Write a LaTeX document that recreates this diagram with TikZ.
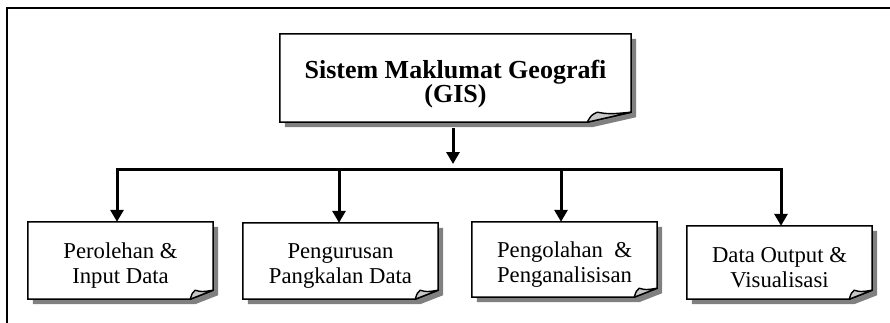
\documentclass[tikz,border=0pt]{standalone}
\usepackage{fontspec}
\setmainfont{Liberation Serif}
\usetikzlibrary{arrows.meta,backgrounds}
\definecolor{shadowgray}{HTML}{808080}
\definecolor{flapgray}{HTML}{C8C8C8}
\newcommand\lowstrut[1]{\rule{0pt}{#1}}
\newcommand\tightlines{\setlength{\lineskiplimit}{-20pt}}
\tikzset{
  boxline/.style={line width=1.5pt, line join=miter},
  lbl/.style={draw=none, inner sep=0pt, align=center, font={\fontsize{22.7}{25}\selectfont\tightlines}},
  toplbl/.style={draw=none, inner sep=0pt, align=center, font={\bfseries\fontsize{26}{24}\selectfont\tightlines}},
  arr/.style={line width=3pt, -{Triangle[width=13pt,length=12pt]}},
  arrboth/.style={line width=3pt, line join=miter, {Triangle[width=13pt,length=12pt]}-{Triangle[width=13pt,length=12pt]}},
}
\newcommand\foldbox[4]{% name, fold dx, fold dy, flap inset
  \fill[shadowgray] ([shift={(5,5)}]#1.north west) -- ([shift={(5,5)}]#1.north east)
     -- ([shift={(5,5-#3)}]#1.south east) -- ([shift={(5-#2,5)}]#1.south east)
     -- ([shift={(5,5)}]#1.south west) -- cycle;
  \filldraw[fill=white, boxline] (#1.north west) -- (#1.north east)
     -- ([shift={(0,-#3)}]#1.south east) -- ([shift={(-#2,0)}]#1.south east)
     -- (#1.south west) -- cycle;
  \filldraw[fill=flapgray, line width=1.4pt, line join=round]
     ([shift={(-#2,0)}]#1.south east)
     .. controls ([shift={(-#2+#4*0.4,-#3*0.7)}]#1.south east) .. ([shift={(-#2+#4,-#3)}]#1.south east)
     .. controls ([shift={(-#2*0.5,-#3*0.8)}]#1.south east) .. ([shift={(0,-#3)}]#1.south east)
     -- cycle;
}
\begin{document}
\begin{tikzpicture}[x=1pt,y=-1pt]
  \useasboundingbox (0,0) rectangle (890,322);
  \clip (0,0) rectangle (890,322);
  \draw[line width=1.6pt] (7,340) -- (7,8) -- (900,8);

  \node[toplbl, minimum width=351pt, minimum height=88pt] (top) at (455.5,78) {\lowstrut{30pt}Sistem Maklumat Geografi\\(GIS)};
  \node[lbl, minimum width=185pt, minimum height=77pt] (b1) at (120.5,260.5) {\lowstrut{25pt}Perolehan \&\\Input Data};
  \node[lbl, minimum width=195pt, minimum height=76pt] (b2) at (340.5,261) {\lowstrut{25pt}Pengurusan\\Pangkalan Data};
  \node[lbl, minimum width=185pt, minimum height=75pt] (b3) at (564.5,259.5) {\lowstrut{25pt}Pengolahan~ \&\\Penganalisisan};
  \node[lbl, minimum width=185pt, minimum height=73pt] (b4) at (779.5,262.5) {\lowstrut{25pt}Data Output \&\\Visualisasi};

  \begin{pgfonlayer}{background}
    \foldbox{top}{44}{10}{10}
    \foldbox{b1}{23}{9}{5}
    \foldbox{b2}{23}{9}{5}
    \foldbox{b3}{23}{9}{5}
    \foldbox{b4}{23}{9}{5}
  \end{pgfonlayer}

  \coordinate (bar) at (453,169);
  \draw[arr, shorten <=6pt, shorten >=5pt] ([xshift=-2.5pt]top.south) -- ([xshift=-2.5pt]top.south |- bar);
  \draw[arrboth] ([xshift=-3.5pt]b1.north) |- (bar) -| ([xshift=1.5pt]b4.north);
  \draw[arr] ([xshift=-1.5pt]b2.north |- bar) -- ([xshift=-1.5pt]b2.north);
  \draw[arr] ([xshift=-3.5pt]b3.north |- bar) -- ([xshift=-3.5pt]b3.north);
\end{tikzpicture}
\end{document}
